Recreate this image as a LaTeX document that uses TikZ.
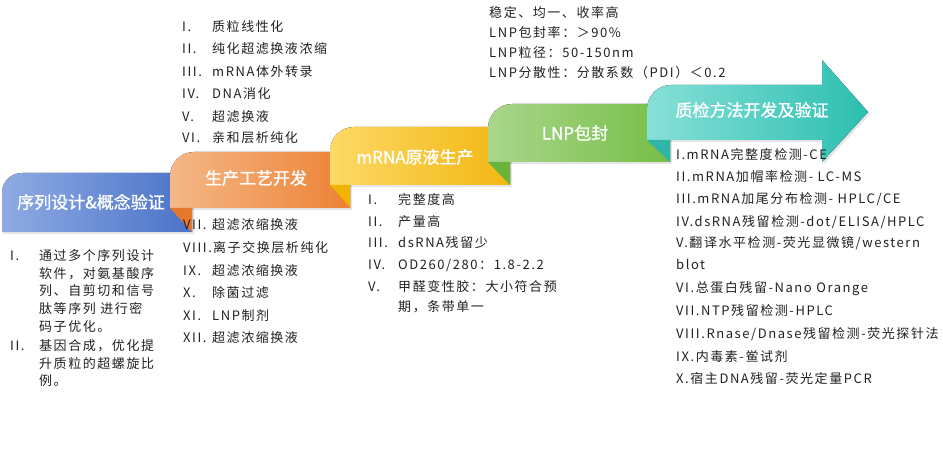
\documentclass[tikz,border=0pt]{standalone}
\usepackage{fontspec}
\setmainfont{Noto Sans CJK SC}
\newfontfamily\lstfont[LetterSpace=12]{Noto Sans CJK SC}
\newfontfamily\bnfont[FakeBold=1.2]{Noto Sans CJK SC}
\definecolor{blueL}{HTML}{8FABE3}
\definecolor{blueR}{HTML}{4A72C8}
\definecolor{orgL}{HTML}{F5B888}
\definecolor{orgR}{HTML}{EC8233}
\definecolor{orgD}{HTML}{E5782A}
\definecolor{yelL}{HTML}{FDD966}
\definecolor{yelR}{HTML}{F2B712}
\definecolor{yelD}{HTML}{F0B300}
\definecolor{grnL}{HTML}{AAD68C}
\definecolor{grnR}{HTML}{76BE46}
\definecolor{grnD}{HTML}{6AB33C}
\definecolor{tealL}{HTML}{86E0D8}
\definecolor{tealR}{HTML}{2CBFB0}
\definecolor{tealD}{HTML}{2FB6A8}
\definecolor{txt}{HTML}{222222}
\begin{document}
\begin{tikzpicture}[x=1pt,y=-1pt,
  btxt/.style={text=white, inner sep=0pt, font=\bnfont\fontsize{17}{20}\selectfont},
  lst/.style={anchor=base west, inner sep=0pt, text=txt, font=\lstfont\fontsize{13}{15}\selectfont},
  shd/.style={fill=black, opacity=0.10}]
\useasboundingbox (0,0) rectangle (943,457);
\fill[white] (0,0) rectangle (943,457);

% ---- blue banner
\fill[shd] (3,234) [rounded corners=20pt] -- (3,175) [sharp corners] -- (194,175) -- (194,234) -- cycle;
\fill[left color=blueL, right color=blueR] (2,232) [rounded corners=20pt] -- (2,173) [sharp corners] -- (192,173) -- (192,232) -- cycle;
% ---- orange banner
\fill[shd] (171,210) [rounded corners=24pt] -- (171,154) [sharp corners] -- (352,154) -- (352,210) -- cycle;
\fill[left color=orgL, right color=orgR] (170,208) [rounded corners=24pt] -- (170,152) [sharp corners] -- (350,152) -- (350,208) -- cycle;
\fill[orgD] (170,208) -- (192,208) -- (192,232) -- cycle;
% ---- yellow banner
\fill[shd] (331,187) [rounded corners=24pt] -- (331,129) [sharp corners] -- (512,129) -- (512,187) -- cycle;
\fill[left color=yelL, right color=yelR] (330,185) [rounded corners=24pt] -- (330,127) [sharp corners] -- (510,127) -- (510,185) -- cycle;
\fill[yelD] (330,185) -- (350,185) -- (350,207) -- cycle;
% ---- green banner
\fill[shd] (489,164) [rounded corners=24pt] -- (489,106) [sharp corners] -- (672,106) -- (672,164) -- cycle;
\fill[left color=grnL, right color=grnR] (488,162) [rounded corners=24pt] -- (488,104) [sharp corners] -- (670,104) -- (670,162) -- cycle;
\fill[grnD] (488,162) -- (510,162) -- (510,185) -- cycle;
% ---- teal arrow
\fill[shd] (648,142) [rounded corners=24pt] -- (648,87) [sharp corners] -- (824,87) -- (824,62) -- (870,114) -- (824,164) -- (824,142) -- cycle;
\fill[left color=tealL, right color=tealR] (647,140) [rounded corners=24pt] -- (647,85) [sharp corners] -- (822,85) -- (822,60) -- (868,112) -- (822,162) -- (822,140) -- cycle;
\fill[tealD] (647,140) -- (670,140) -- (670,162) -- cycle;

% ---- banner labels
\node[btxt] (t1) at (91,202) {序列设计\&概念验证};
\node[btxt] (t2) at (256,178) {生产工艺开发};
\node[btxt] (t3) at (415,157) {mRNA原液生产};
\node[btxt] (t4) at (575,133) {LNP包封};
\node[btxt] (t5) at (752,110) {质检方法开发及验证};

% ---- blue list
\node[lst] (a1n) at (10,261) {I.};
\node[lst] (a1a) at (39,261) {通过多个序列设计};
\node[lst] (a1b) at (39,278.5) {软件，对氨基酸序};
\node[lst] (a1c) at (39,296) {列、自剪切和信号};
\node[lst] (a1d) at (39,313.5) {肽等序列 进行密};
\node[lst] (a1e) at (39,331) {码子优化。};
\node[lst] (a2n) at (10,350) {II.};
\node[lst] (a2a) at (39,350) {基因合成，优化提};
\node[lst] (a2b) at (39,368) {升质粒的超螺旋比};
\node[lst] (a2c) at (39,385) {例。};

% ---- top list (process)
\node[lst] (b1n) at (182,31.5) {I.};
\node[lst] (b1) at (212,31.5) {质粒线性化};
\node[lst] (b2n) at (182,54) {II.};
\node[lst] (b2) at (212,54) {纯化超滤换液浓缩};
\node[lst] (b3n) at (182,76.5) {III.};
\node[lst] (b3) at (212,76.5) {mRNA体外转录};
\node[lst] (b4n) at (182,99) {IV.};
\node[lst] (b4) at (212,99) {DNA消化};
\node[lst] (b5n) at (182,121.5) {V.};
\node[lst] (b5) at (212,121.5) {超滤换液};
\node[lst] (b6n) at (182,143) {VI.};
\node[lst] (b6) at (212,143) {亲和层析纯化};

% ---- lower list (process)
\node[lst] (c7n) at (183,230) {VII.};
\node[lst] (c7) at (212,230) {超滤浓缩换液};
\node[lst] (c8n) at (183,253) {VIII.};
\node[lst] (c8) at (213,253) {离子交换层析纯化};
\node[lst] (c9n) at (183,276) {IX.};
\node[lst] (c9) at (212,276) {超滤浓缩换液};
\node[lst] (c10n) at (183,298) {X.};
\node[lst] (c10) at (212,298) {除菌过滤};
\node[lst] (c11n) at (183,320) {XI.};
\node[lst] (c11) at (212,320) {LNP制剂};
\node[lst] (c12n) at (183,342) {XII.};
\node[lst] (c12) at (212,342) {超滤浓缩换液};

% ---- mRNA list
\node[lst] (d1n) at (368,205) {I.};
\node[lst] (d1) at (398,205) {完整度高};
\node[lst] (d2n) at (368,227) {II.};
\node[lst] (d2) at (398,227) {产量高};
\node[lst] (d3n) at (368,248) {III.};
\node[lst] (d3) at (398,248) {dsRNA残留少};
\node[lst] (d4n) at (368,270) {IV.};
\node[lst] (d4) at (398,270) {OD260/280：1.8-2.2};
\node[lst] (d5n) at (368,291) {V.};
\node[lst] (d5) at (398,291) {甲醛变性胶：大小符合预};
\node[lst] (d5b) at (398,312) {期，条带单一};

% ---- LNP list
\node[lst] (e1) at (489,18) {稳定、均一、收率高};
\node[lst] (e2) at (489,38) {LNP包封率：＞90\%};
\node[lst] (e3) at (489,58) {LNP粒径：50-150nm};
\node[lst] (e4) at (489,78) {LNP分散性：分散系数（PDI）＜0.2};

% ---- QC list
\node[lst] (f1) at (676,160) {I.mRNA完整度检测-CE};
\node[lst] (f2) at (676,182) {II.mRNA加帽率检测- LC-MS};
\node[lst] (f3) at (676,204) {III.mRNA加尾分布检测- HPLC/CE};
\node[lst] (f4) at (676,227) {IV.dsRNA残留检测-dot/ELISA/HPLC};
\node[lst] (f5) at (676,248) {V.翻译水平检测-荧光显微镜/western};
\node[lst] (f5b) at (676,270) {blot};
\node[lst] (f6) at (676,293) {VI.总蛋白残留-Nano Orange};
\node[lst] (f7) at (676,316) {VII.NTP残留检测-HPLC};
\node[lst] (f8) at (676,338) {VIII.Rnase/Dnase残留检测-荧光探针法};
\node[lst] (f9) at (676,361) {IX.内毒素-鲎试剂};
\node[lst] (f10) at (676,383) {X.宿主DNA残留-荧光定量PCR};
\end{tikzpicture}
\end{document}
